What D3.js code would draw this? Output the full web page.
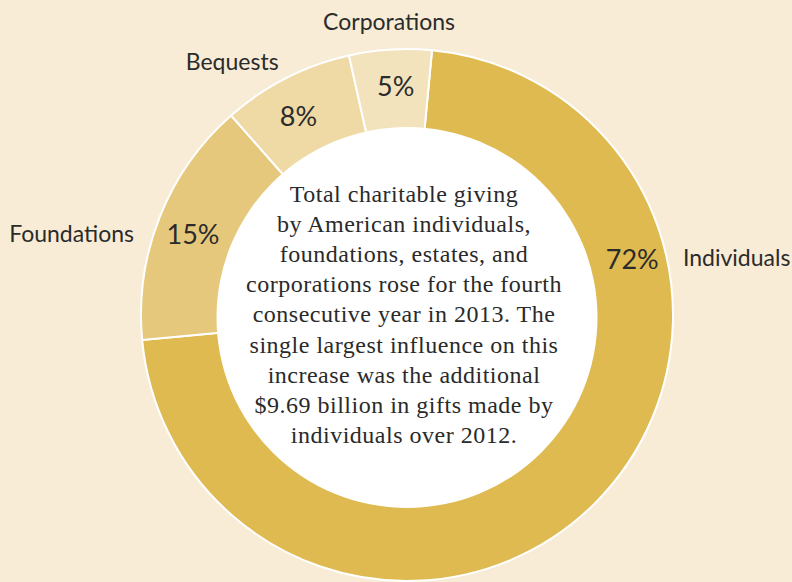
<!DOCTYPE html>
<html><head><meta charset="utf-8">
<script src="https://cdn.jsdelivr.net/npm/d3@7"></script>
<style>
html,body{margin:0;padding:0;background:#f8ecd6;}
svg{display:block;}
</style></head>
<body>
<svg id="chart" width="792" height="582"></svg>
<script>
const categories = ["Individuals", "Foundations", "Bequests", "Corporations"];
const values = [72, 15, 8, 5];
const valueLabels = ["72%", "15%", "8%", "5%"];
const colors = ["#dfba50", "#e5c87c", "#efdaa6", "#f3e3bd"];
const centerText = [
  "Total charitable giving",
  "by American individuals,",
  "foundations, estates, and",
  "corporations rose for the fourth",
  "consecutive year in 2013. The",
  "single largest influence on this",
  "increase was the additional",
  "$9.69 billion in gifts made by",
  "individuals over 2012."
];

const W = 792, H = 582;
const cx = 407, cy = 315;
const R = 266, r0 = 190;
const deg = Math.PI / 180;

const svg = d3.select("#chart");
svg.append("rect").attr("width", W).attr("height", H).attr("fill", "#f8ecd6");
const g = svg.append("g").attr("transform", `translate(${cx},${cy})`);

const data = categories.map((c, i) => ({cat: c, value: values[i], label: valueLabels[i], color: colors[i]}));
const pie = d3.pie().value(d => d.value).sort(null)
  .startAngle(5.4 * deg).endAngle(365.4 * deg);
const arcs = pie(data);
const arc = d3.arc().innerRadius(r0 - 4).outerRadius(R);

g.selectAll("path.slice").data(arcs).enter().append("path")
  .attr("class", "slice")
  .attr("d", arc)
  .attr("fill", d => d.data.color)
  .attr("stroke", "#ffffff")
  .attr("stroke-width", 2)
  .attr("stroke-linejoin", "miter");

// inner white disc
svg.append("circle").attr("cx", cx).attr("cy", cy + 2.5).attr("r", r0 + 0.5).attr("fill", "#ffffff");

// percentage labels
const midR = (r0 + R) / 2;
const pctAdjust = [[4, 0], [-2, 4], [-5, 5], [3, 0]];
function labelPos(d, i) {
  let a = (d.startAngle + d.endAngle) / 2;
  if (i === 0) a = 76 * deg; // large slice label placed on the right side
  return [Math.sin(a) * midR + pctAdjust[i][0], -Math.cos(a) * midR + pctAdjust[i][1]];
}
g.selectAll("text.pct").data(arcs).enter().append("text")
  .attr("class", "pct")
  .attr("x", (d, i) => labelPos(d, i)[0])
  .attr("y", (d, i) => labelPos(d, i)[1] + 9)
  .attr("text-anchor", "middle")
  .attr("font-family", "Lato, 'Open Sans', sans-serif")
  .attr("font-size", 27)
  .attr("fill", "#2b2b2b")
  .text(d => d.data.label);

// category labels outside the ring (baseline positions in polar form)
const outerLayout = [
  {angle: 79.9, r: 280.3, anchor: "start"},
  {angle: 285, r: 282.6, anchor: "end"},
  {angle: 324.5, r: 301, anchor: "middle"},
  {angle: 356.4, r: 285.6, anchor: "middle"}
];
g.selectAll("text.cat").data(arcs).enter().append("text")
  .attr("class", "cat")
  .attr("x", (d, i) => Math.sin(outerLayout[i].angle * deg) * outerLayout[i].r)
  .attr("y", (d, i) => -Math.cos(outerLayout[i].angle * deg) * outerLayout[i].r)
  .attr("text-anchor", (d, i) => outerLayout[i].anchor)
  .attr("font-family", "Lato, 'Open Sans', sans-serif")
  .attr("font-size", 23)
  .attr("fill", "#2b2b2b")
  .text(d => d.data.cat);

// center paragraph
const lineH = 30.1;
const ct = svg.append("text")
  .attr("text-anchor", "middle")
  .attr("font-family", "'Liberation Serif', 'Times New Roman', serif")
  .attr("font-size", 24)
  .attr("letter-spacing", 0.5)
  .attr("fill", "#2a2a2a");
centerText.forEach((t, i) => {
  ct.append("tspan").attr("x", 404).attr("y", 202 + i * lineH).text(t);
});
</script>
</body></html>
